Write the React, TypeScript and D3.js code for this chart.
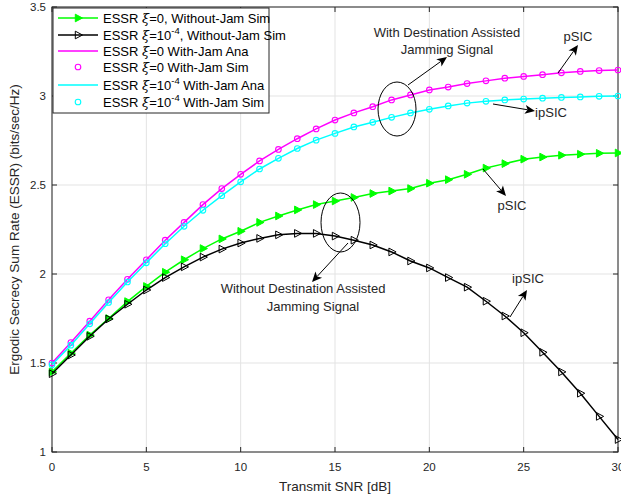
import React from "react";
import * as d3 from "d3";

const snr = d3.range(0, 31);
const greenVals = [1.45, 1.555, 1.657, 1.75, 1.845, 1.93, 2.01, 2.08, 2.143, 2.197, 2.24, 2.29, 2.326, 2.36, 2.39, 2.41, 2.43, 2.452, 2.466, 2.48, 2.51, 2.53, 2.56, 2.595, 2.62, 2.645, 2.657, 2.667, 2.673, 2.678, 2.68];
const blackVals = [1.44, 1.545, 1.65, 1.747, 1.83, 1.91, 1.98, 2.04, 2.095, 2.14, 2.174, 2.2, 2.22, 2.228, 2.228, 2.213, 2.19, 2.163, 2.124, 2.073, 2.034, 1.98, 1.926, 1.847, 1.764, 1.67, 1.56, 1.45, 1.33, 1.2, 1.07];
const magentaVals = [1.5, 1.615, 1.735, 1.855, 1.97, 2.08, 2.19, 2.29, 2.39, 2.48, 2.56, 2.635, 2.7, 2.76, 2.815, 2.865, 2.905, 2.94, 2.978, 3.006, 3.034, 3.05, 3.07, 3.085, 3.1, 3.11, 3.12, 3.13, 3.138, 3.143, 3.146];
const cyanVals = [1.49, 1.6, 1.72, 1.84, 1.955, 2.063, 2.17, 2.268, 2.358, 2.44, 2.518, 2.59, 2.65, 2.705, 2.752, 2.79, 2.826, 2.852, 2.88, 2.905, 2.925, 2.944, 2.96, 2.97, 2.978, 2.983, 2.988, 2.992, 2.995, 2.998, 3.0];
const xTicks = [0, 5, 10, 15, 20, 25, 30];
const yTicks = [1, 1.5, 2, 2.5, 3, 3.5];

const W = 621, H = 499;
const M = { left: 52, right: 618, top: 7, bottom: 452 };
const FONT = "'Liberation Sans', Arial, Helvetica, sans-serif";

function tri(cx: number, cy: number, s: number) {
  return `M${cx + s},${cy} L${cx - s * 0.6},${cy - s * 0.85} L${cx - s * 0.6},${cy + s * 0.85} Z`;
}

function Arrow({ x1, y1, x2, y2, head = 10 }: { x1: number; y1: number; x2: number; y2: number; head?: number }) {
  const a = Math.atan2(y2 - y1, x2 - x1);
  const L = head, Wd = head * 0.45, back = head * 0.75;
  const ux = Math.cos(a), uy = Math.sin(a);
  const px = -uy, py = ux;
  const bx = x2 - ux * L, by = y2 - uy * L;
  const nx = x2 - ux * back, ny = y2 - uy * back;
  const pts = [
    [x2, y2],
    [bx + px * Wd, by + py * Wd],
    [nx, ny],
    [bx - px * Wd, by - py * Wd],
  ];
  return (
    <g>
      <line x1={x1} y1={y1} x2={nx} y2={ny} stroke="#000" strokeWidth={1} />
      <polygon points={pts.map((p) => p.join(",")).join(" ")} fill="#000" />
    </g>
  );
}

export default function App() {
  const x = d3.scaleLinear().domain([0, 30]).range([M.left, M.right]);
  const y = d3.scaleLinear().domain([1, 3.5]).range([M.bottom, M.top]);
  const line = d3.line<number>().x((_, i) => x(snr[i])).y((d) => y(d));

  const series = [
    { vals: greenVals, color: "#00ff00", marker: "triG" },
    { vals: blackVals, color: "#000000", marker: "triK" },
    { vals: magentaVals, color: "#ff00ff", marker: "circ" },
    { vals: cyanVals, color: "#00ffff", marker: "circ" },
  ];

  const legendItems = [
    { color: "#00ff00", line: true, marker: "triG", label: [["ESSR "], ["ξ", "i"], ["=0, Without-Jam Sim"]] },
    { color: "#000000", line: true, marker: "triK", label: [["ESSR "], ["ξ", "i"], ["=10"], ["-4", "sup"], [", Without-Jam Sim"]] },
    { color: "#ff00ff", line: true, marker: "", label: [["ESSR "], ["ξ", "i"], ["=0 With-Jam Ana"]] },
    { color: "#ff00ff", line: false, marker: "circ", label: [["ESSR "], ["ξ", "i"], ["=0 With-Jam Sim"]] },
    { color: "#00ffff", line: true, marker: "", label: [["ESSR "], ["ξ", "i"], ["=10"], ["-4", "sup"], [" With-Jam Ana"]] },
    { color: "#00ffff", line: false, marker: "circ", label: [["ESSR "], ["ξ", "i"], ["=10"], ["-4", "sup"], [" With-Jam Sim"]] },
  ];
  const legendY = [18, 35, 51, 67, 85, 102];

  const drawMarker = (m: string, cx: number, cy: number, color: string, key: string) => {
    if (m === "triG") return <path key={key} d={tri(cx, cy, 4.5)} fill="#00ff00" stroke="#00ff00" strokeWidth={1} />;
    if (m === "triK") return <path key={key} d={tri(cx, cy, 4.5)} fill="none" stroke="#000" strokeWidth={1} />;
    if (m === "circ") return <circle key={key} cx={cx} cy={cy} r={2.8} fill="none" stroke={color} strokeWidth={1.1} />;
    return null;
  };

  return (
    <svg width={W} height={H} style={{ display: "block", position: "absolute", left: 0, top: 0 }} fontFamily={FONT}>
      <rect x={0} y={0} width={W} height={H} fill="#fff" />
      {/* grid */}
      {xTicks.map((t) => (
        <line key={"gx" + t} x1={x(t)} x2={x(t)} y1={M.top} y2={M.bottom} stroke="#e3e3e3" strokeWidth={1} />
      ))}
      {yTicks.map((t) => (
        <line key={"gy" + t} x1={M.left} x2={M.right} y1={y(t)} y2={y(t)} stroke="#e3e3e3" strokeWidth={1} />
      ))}
      {/* box */}
      <rect x={M.left} y={M.top} width={M.right - M.left} height={M.bottom - M.top} fill="none" stroke="#262626" strokeWidth={1} />
      {/* ticks */}
      {xTicks.map((t) => (
        <g key={"tx" + t}>
          <line x1={x(t)} x2={x(t)} y1={M.bottom} y2={M.bottom - 5} stroke="#262626" />
          <line x1={x(t)} x2={x(t)} y1={M.top} y2={M.top + 5} stroke="#262626" />
          <text x={x(t)} y={M.bottom + 19} fontSize={11.5} fill="#262626" textAnchor="middle">{t}</text>
        </g>
      ))}
      {yTicks.map((t) => (
        <g key={"ty" + t}>
          <line x1={M.left} x2={M.left + 5} y1={y(t)} y2={y(t)} stroke="#262626" />
          <line x1={M.right} x2={M.right - 5} y1={y(t)} y2={y(t)} stroke="#262626" />
          <text x={M.left - 6} y={y(t) + 4} fontSize={11.5} fill="#262626" textAnchor="end">{t}</text>
        </g>
      ))}
      <text x={(M.left + M.right) / 2} y={491} fontSize={13.5} fill="#262626" textAnchor="middle">Transmit SNR [dB]</text>
      <text transform={`translate(19,${(M.top + M.bottom) / 2}) rotate(-90)`} fontSize={13.5} fill="#262626" textAnchor="middle">
        Ergodic Secrecy Sum Rate (ESSR) (bits/sec/Hz)
      </text>
      {/* series */}
      {series.map((s, si) => (
        <g key={"s" + si}>
          <path d={line(s.vals) || ""} fill="none" stroke={s.color} strokeWidth={1.5} />
          {s.vals.map((v, i) => drawMarker(s.marker, x(snr[i]), y(v), s.color, `m${si}-${i}`))}
        </g>
      ))}
      {/* legend */}
      <rect x={53} y={8} width={216} height={105} fill="#fff" stroke="#262626" strokeWidth={1} />
      {legendItems.map((it, i) => (
        <g key={"l" + i}>
          {it.line && <line x1={58} x2={98} y1={legendY[i]} y2={legendY[i]} stroke={it.color} strokeWidth={1.5} />}
          {drawMarker(it.marker, 78, legendY[i], it.color, "lm" + i)}
          <text x={103} y={legendY[i] + 5} fontSize={13} fill="#000">
            {it.label.map((p, j) =>
              p[1] === "i" ? (
                <tspan key={j} fontStyle="italic" fontFamily="'DejaVu Serif', serif">{p[0]}</tspan>
              ) : p[1] === "sup" ? (
                <tspan key={j} fontSize={9.5} dy={-6}>{p[0]}</tspan>
              ) : j > 0 && it.label[j - 1][1] === "sup" ? (
                <tspan key={j} dy={6}>{p[0]}</tspan>
              ) : (
                <tspan key={j}>{p[0]}</tspan>
              )
            )}
          </text>
        </g>
      ))}
      {/* annotations */}
      <ellipse cx={397} cy={109} rx={19} ry={27} fill="none" stroke="#000" strokeWidth={1} />
      <ellipse cx={340.5} cy={222.5} rx={19.5} ry={29.5} fill="none" stroke="#000" strokeWidth={1} />
      <Arrow x1={408} y1={85} x2={447} y2={57} />
      <Arrow x1={558} y1={73} x2={578} y2={45} />
      <Arrow x1={493} y1={104} x2={535} y2={111} />
      <Arrow x1={483} y1={169} x2={506} y2={196} />
      <Arrow x1={348} y1={243} x2={312} y2={282} />
      <Arrow x1={510} y1={317} x2={527} y2={290} />
      <g fontSize={13} fill="#262626" textAnchor="middle">
        <text x={447} y={37}>With Destination Assisted</text>
        <text x={447} y={54}>Jamming Signal</text>
        <text x={578} y={41}>pSIC</text>
        <text x={551} y={117}>ipSIC</text>
        <text x={512} y={210}>pSIC</text>
        <text x={303} y={293}>Without Destination Assisted</text>
        <text x={313} y={311}>Jamming Signal</text>
        <text x={528} y={283}>ipSIC</text>
      </g>
    </svg>
  );
}
